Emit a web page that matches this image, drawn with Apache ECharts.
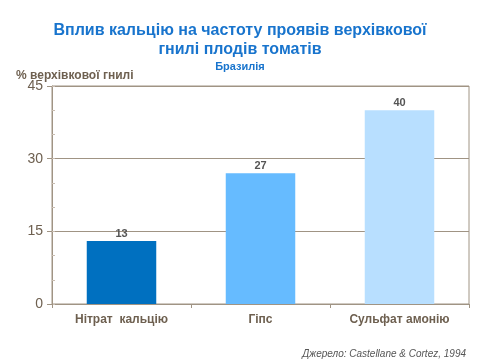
<!DOCTYPE html>
<html><head><meta charset="utf-8">
<script src="https://cdn.jsdelivr.net/npm/echarts@6/dist/echarts.min.js"></script>
<style>html,body{margin:0;padding:0;background:#fff}#c{width:480px;height:360px}</style>
</head><body><div id="c"></div>
<script>
const categories = ['Нітрат  кальцію', 'Гіпс', 'Сульфат амонію'];
const values = [13, 27, 40];
const barColors = ['#0070C0', '#66BBFF', '#B8DFFF'];
const yTicks = [0, 15, 30, 45];

const axisCol = '#A09484';
const textCol = '#6E6050';
const chart = echarts.init(document.getElementById('c'), null, {renderer: 'canvas'});
chart.setOption({
  animation: false,
  backgroundColor: '#fff',
  title: [
    {text: 'Вплив кальцію на частоту проявів верхівкової\nгнилі плодів томатів', left: 'center', top: 16,
     textStyle: {fontFamily: 'Liberation Sans, Arial', fontSize: 16, fontWeight: 'bold', color: '#1874CD', lineHeight: 19}},
    {text: 'Бразилія', left: 'center', top: 56,
     textStyle: {fontFamily: 'Liberation Sans, Arial', fontSize: 11, fontWeight: 'bold', color: '#1874CD'}},
    {text: '% верхівкової гнилі', left: 11, top: 65,
     textStyle: {fontFamily: 'Liberation Sans, Arial', fontSize: 12, fontWeight: 'bold', color: textCol}},
    {text: 'Джерело: Castellane & Cortez, 1994', right: 9, top: 344,
     textStyle: {fontFamily: 'Liberation Sans, Arial', fontSize: 10, fontStyle: 'italic', fontWeight: 'normal', color: '#555'}}
  ],
  grid: {left: 52, right: 11, top: 86, bottom: 56, show: true, borderColor: axisCol, borderWidth: 1},
  xAxis: {
    type: 'category', data: categories,
    axisLine: {lineStyle: {color: axisCol}},
    axisTick: {show: true, lineStyle: {color: axisCol}, length: 4},
    axisLabel: {fontFamily: 'Liberation Sans, Arial', fontSize: 12, fontWeight: 'bold', color: textCol, margin: 10}
  },
  yAxis: [{
    type: 'value', min: yTicks[0], max: yTicks[yTicks.length - 1], interval: 15,
    axisLine: {show: true, lineStyle: {color: axisCol}},
    axisTick: {show: true, length: 5, lineStyle: {color: axisCol}},
    splitLine: {show: true, lineStyle: {color: axisCol}},
    axisLabel: {fontFamily: 'Liberation Sans, Arial', fontSize: 14, color: textCol, margin: 9}
  }, {
    type: 'value', min: 0, max: 45, interval: 5, position: 'left',
    axisLine: {show: false},
    axisTick: {show: true, inside: true, length: 3, lineStyle: {color: '#C8BCB0'}},
    splitLine: {show: false},
    axisLabel: {show: false}
  }],
  series: [{
    type: 'bar', barWidth: '50%',
    data: values.map((v, i) => ({value: v, itemStyle: {color: barColors[i]}})),
    label: {show: true, position: 'top', distance: 2, fontFamily: 'Liberation Sans, Arial', fontSize: 11, fontWeight: 'bold', color: '#555'}
  }]
});
</script></body></html>
